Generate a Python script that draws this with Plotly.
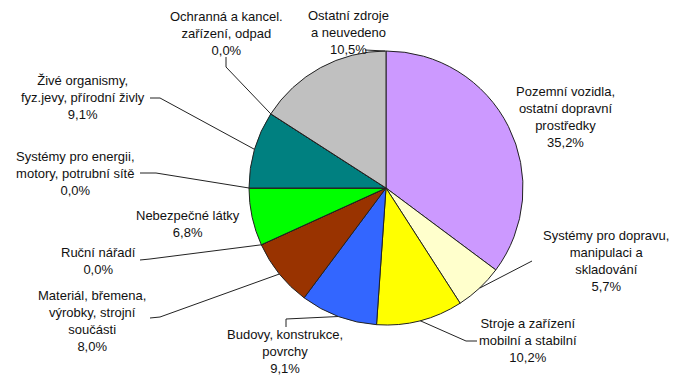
import math
import plotly.graph_objects as go

W, H = 673, 377

# Data (clockwise from 12 o'clock)
categories = [
    "Pozemní vozidla,<br>ostatní dopravní<br>prostředky",
    "Systémy pro dopravu,<br>manipulaci a<br>skladování",
    "Stroje a zařízení<br>mobilní a stabilní",
    "Budovy, konstrukce,<br>povrchy",
    "Materiál, břemena,<br>výrobky, strojní<br>součásti",
    "Ruční nářadí",
    "Nebezpečné látky",
    "Systémy pro energii,<br>motory, potrubní sítě",
    "Živé organismy,<br>fyz.jevy, přírodní živly",
    "Ochranná a kancel.<br>zařízení, odpad",
    "Ostatní zdroje<br>a neuvedeno",
]
# slice sizes as drawn
values = [35.2, 5.7, 10.2, 9.1, 8.0, 0.0, 6.8, 0.0, 9.1, 0.0, 15.9]
# percentages as printed on the labels
pct_labels = ["35,2%", "5,7%", "10,2%", "9,1%", "8,0%", "0,0%", "6,8%",
              "0,0%", "9,1%", "0,0%", "10,5%"]
colors = ["#CC99FF", "#FFFFCC", "#FFFF00", "#3366FF", "#993300", "#808080",
          "#00FF00", "#FF0000", "#008080", "#FFFFFF", "#C0C0C0"]

# Layout: pie centre / radius in px
CX, CY, R = 386, 188, 137
label_pos = [
    (565, 117), (606, 261), (528, 340), (285, 351), (92, 321), (98, 261),
    (188, 224), (75, 173), (83, 97), (226, 33), (348, 32),
]
leader_start = [
    None,
    [(532, 261)],
    [(477, 341), (466, 341)],
    [(286, 327), (286, 319)],
    [(150, 318), (160, 317)],
    [(140, 260), (150, 259)],
    None,
    [(140, 173), (156, 173)],
    [(150, 98), (160, 98)],
    [(226, 57), (226, 67)],
    [(365, 50)],
]

total = sum(values)


def edge_point(frac, rr=R):
    ang = 2 * math.pi * frac
    return CX + rr * math.sin(ang), CY - rr * math.cos(ang)


fig = go.Figure()
fig.add_trace(go.Pie(
    values=values,
    labels=[c.replace("<br>", " ") for c in categories],
    marker=dict(colors=colors, line=dict(color="#222222", width=1)),
    sort=False, direction="clockwise", rotation=0,
    textinfo="none", hoverinfo="skip", showlegend=False,
    domain=dict(x=[(CX - R) / W, (CX + R) / W],
                y=[(H - CY - R) / H, (H - CY + R) / H]),
))
fig.add_trace(go.Scatter(x=[None], y=[None], showlegend=False, hoverinfo="skip"))

shapes = []
annotations = []
cum = 0.0
for i, (cat, v) in enumerate(zip(categories, values)):
    mid = (cum + v / 2) / total
    cum += v
    lx, ly = label_pos[i]
    annotations.append(dict(
        x=lx, y=ly, xref="x", yref="y", text=cat + "<br>" + pct_labels[i],
        showarrow=False, align="center", xanchor="center", yanchor="middle",
        font=dict(family="Arial, Liberation Sans", size=13, color="#111111"),
    ))
    pts = leader_start[i]
    if pts is None:
        continue
    if i == len(values) - 1:
        end = (CX - 1, CY - R)
    else:
        end = edge_point(mid)
    allp = pts + [end]
    path = "M " + " L ".join(f"{x:.1f},{y:.1f}" for x, y in allp)
    shapes.append(dict(type="path", path=path, xref="x", yref="y",
                       line=dict(color="#222222", width=1)))

fig.update_layout(
    width=W, height=H, margin=dict(l=0, r=0, t=0, b=0),
    paper_bgcolor="white", plot_bgcolor="rgba(0,0,0,0)",
    xaxis=dict(range=[0, W], visible=False, fixedrange=True),
    yaxis=dict(range=[H, 0], visible=False, fixedrange=True),
    shapes=shapes, annotations=annotations, showlegend=False,
)
fig.write_html(
    "out.html",
    config={"displayModeBar": False},
    post_script="document.body.style.margin='0';document.body.style.overflow='hidden';",
)
